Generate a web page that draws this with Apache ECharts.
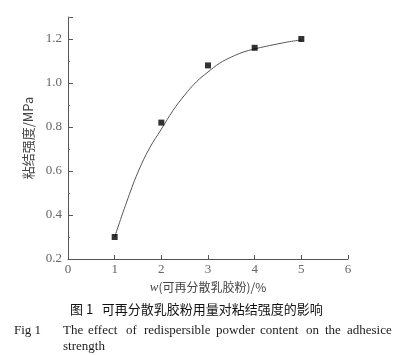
<!DOCTYPE html>
<html>
<head>
<meta charset="utf-8">
<script src="https://cdn.jsdelivr.net/npm/echarts@6/dist/echarts.min.js"></script>
<style>
  html, body { margin: 0; padding: 0; background: #fff; }
  #chart { width: 393px; height: 355px; }
</style>
</head>
<body>
<div id="chart"></div>
<script>
// measured points: w (%) vs bond strength (MPa)
const dosage = [1, 2, 3, 4, 5];
const strength = [0.30, 0.82, 1.08, 1.16, 1.20];

// fitted curve
const fitX = [1, 1.25, 1.5, 1.75, 2, 2.25, 2.5, 2.75, 3, 3.25, 3.5, 3.75, 4, 4.25, 4.5, 4.75, 5];
const fitY = [0.30, 0.455, 0.595, 0.705, 0.79, 0.875, 0.945, 1.005, 1.05, 1.09, 1.118, 1.14, 1.155, 1.167, 1.178, 1.188, 1.196];

// justified caption line, word by word
const enWords = ['The', 'effect', 'of', 'redispersible', 'powder', 'content', 'on', 'the', 'adhesice'];
const enWordX = [63, 88, 126, 144, 216, 260, 306, 325, 347];

const serif = '"Liberation Serif", "DejaVu Serif", serif';
const cjk = '"Noto Sans CJK SC", sans-serif';

const chart = echarts.init(document.getElementById('chart'));

const graphics = [
  {
    type: 'text', left: 70, top: 303,
    style: { text: '图 1   可再分散乳胶粉用量对粘结强度的影响', font: '13px ' + cjk, fill: '#111' }
  },
  {
    type: 'text', left: 14, top: 324,
    style: { text: 'Fig 1', font: '13px ' + serif, fill: '#222' }
  },
  {
    type: 'text', left: 63, top: 340,
    style: { text: 'strength', font: '13px ' + serif, fill: '#222' }
  }
];
enWords.forEach((w, i) => {
  graphics.push({
    type: 'text', left: enWordX[i], top: 324,
    style: { text: w, font: '13px ' + serif, fill: '#222' }
  });
});

const option = {
  animation: false,
  grid: { left: 68, right: 45, top: 17, bottom: 96, containLabel: false },
  xAxis: {
    type: 'value',
    min: 0, max: 6, interval: 1,
    name: '{i|w}{n|(可再分散乳胶粉)/%}',
    nameLocation: 'middle',
    nameGap: 19,
    nameTextStyle: {
      rich: {
        i: { fontFamily: serif, fontStyle: 'italic', fontSize: 13, color: '#444' },
        n: { fontFamily: cjk, fontSize: 12, color: '#444' }
      }
    },
    axisLine: { lineStyle: { color: '#555', width: 1 } },
    axisTick: { inside: true, length: 4, lineStyle: { color: '#555' } },
    axisLabel: { fontFamily: serif, fontSize: 13, color: '#666', margin: 4 },
    splitLine: { show: false }
  },
  yAxis: {
    type: 'value',
    min: 0.2, max: 1.3, interval: 0.2,
    name: '粘结强度/MPa',
    nameLocation: 'middle',
    nameGap: 31,
    nameTextStyle: { fontFamily: cjk, fontSize: 13, color: '#444' },
    axisLine: { show: true, lineStyle: { color: '#555', width: 1 } },
    axisTick: { inside: true, length: 5, lineStyle: { color: '#555' } },
    minorTick: { show: true, splitNumber: 2, length: 2, lineStyle: { color: '#777' } },
    axisLabel: {
      fontFamily: serif, fontSize: 13, color: '#666', margin: 6,
      showMaxLabel: false,
      formatter: v => v.toFixed(1)
    },
    splitLine: { show: false }
  },
  series: [
    {
      type: 'line',
      data: fitX.map((x, i) => [x, fitY[i]]),
      smooth: 0.4,
      showSymbol: false,
      lineStyle: { color: '#555', width: 1 },
      z: 2
    },
    {
      type: 'scatter',
      data: dosage.map((x, i) => [x, strength[i]]),
      symbol: 'rect',
      symbolSize: 6,
      itemStyle: { color: '#000' },
      z: 3
    }
  ],
  graphic: graphics
};

chart.setOption(option);
</script>
</body>
</html>
